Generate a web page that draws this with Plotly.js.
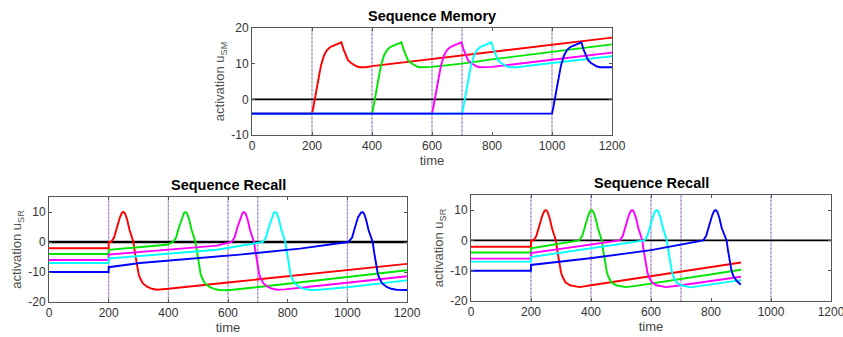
<!DOCTYPE html>
<html>
<head>
<meta charset="utf-8">
<script src="https://cdn.plot.ly/plotly-3.0.1.min.js"></script>
<style>html,body{margin:0;padding:0;background:#fff;}#chart{width:843px;height:337px;}</style>
</head>
<body>
<div id="chart"></div>
<script>
// ---------- DATA ----------
const eventTimes = [200, 400, 600, 700, 1000];
const seriesNames = ['red', 'green', 'magenta', 'cyan', 'blue'];
const seriesColors = ['#ff0000', '#00e600', '#ff00ff', '#00ffff', '#0000ff'];

// Sequence Memory (u_SM)
const smRedT = [0,200,205,210,220,230,240,250,260,270,280,290,298,305,312,320,330,340,350,360,380,400,600,800,1000,1200];
const smRedY = [-4,-4,-2,0,5,9.5,12.3,13.8,14.6,15,15.3,15.6,16,14,12.3,11,10.2,9.6,9.2,9,9,9.3,11.3,13.3,15.3,17.3];
const smGreenT = [0,400,405,410,420,430,440,450,460,470,480,490,498,505,512,520,530,540,550,560,580,600,700,800,1000,1200];
const smGreenY = [-4,-4,-2,0,5,9.5,12.3,13.8,14.6,15,15.3,15.6,16,14,12.3,11,10.2,9.6,9.2,9,9,9.1,10,11.2,13.3,15.4];
const smMagT = [0,600,605,610,620,630,640,650,660,670,680,690,698,705,712,720,730,740,750,760,780,800,1000,1200];
const smMagY = [-4,-4,-2,0,5,9.5,12.3,13.8,14.6,15,15.3,15.6,16,14,12.3,11,10.2,9.6,9.2,9,9,9.1,11.1,13.1];
const smCyanT = [0,700,705,710,720,730,740,750,760,770,780,790,798,805,812,820,830,840,850,860,880,1000,1200];
const smCyanY = [-4,-4,-2,0,5,9.5,12.3,13.8,14.6,15,15.3,15.6,16,14,12.3,11,10.2,9.6,9.2,9,9,10.2,12.1];
const smBlueT = [0,1000,1005,1010,1020,1030,1040,1050,1060,1070,1080,1090,1098,1105,1112,1120,1130,1140,1150,1160,1180,1200];
const smBlueY = [-4,-4,-2,0,5,9.5,12.3,13.8,14.6,15,15.3,15.6,16,14,12.3,11,10.2,9.6,9.2,9,9,9];

// Sequence Recall, left (u_SR)
const lRedT = [0,200,200,208,218,228,238,245,250,255,262,270,283,288,294,300,305,315,330,345,362,400,600,800,1000,1200];
const lRedY = [-2.1,-2.1,0,0,1.5,5,8.3,9.8,10,9.5,7.4,4,0,-3.5,-7.5,-10.5,-12,-13.8,-15,-15.6,-15.9,-15.6,-13.5,-11.4,-9.3,-7.3];
const lGreenT = [0,200,200,395,416,426,436,446,453,458,463,470,478,491,496,502,508,513,523,538,553,570,600,800,1000,1200];
const lGreenY = [-4,-4,-2.6,-0.9,0,1.5,5,8.3,9.8,10,9.5,7.4,4,0,-3.5,-7.5,-10.5,-12,-13.8,-15,-15.6,-16,-16.1,-13.9,-11.6,-9.4];
const lMagT = [0,200,200,563,612,622,632,642,649,654,659,666,674,687,692,698,704,709,719,734,749,766,790,1000,1200];
const lMagY = [-6,-6,-4.2,-1.2,0,1.5,5,8.3,9.8,10,9.5,7.4,4,0,-3.5,-7.5,-10.5,-12,-13.8,-15,-15.6,-15.9,-15.8,-13.6,-11.4];
const lCyanT = [0,200,200,563,717,727,737,747,754,759,764,771,779,792,797,803,809,814,824,839,854,871,895,1000,1200];
const lCyanY = [-7,-7,-5.5,-2.6,0,1.5,5,8.3,9.8,10,9.5,7.4,4,0,-3.5,-7.5,-10.5,-12,-13.8,-15,-15.6,-15.9,-16,-15.1,-12.8];
const lBlueT = [0,200,200,305,640,841,1003,1016,1026,1036,1046,1051,1056,1063,1071,1085,1090,1096,1102,1107,1117,1132,1147,1165,1200];
const lBlueY = [-10,-10,-8.4,-7,-4.2,-2.2,0,1.5,5,8.3,9.8,10,9.5,7.4,4,0,-3.5,-7.5,-10.5,-12,-13.8,-15,-15.6,-15.9,-16];

// Sequence Recall, right (u_SR)
const rRedT = [0,200,200,208,218,228,238,245,250,255,262,270,283,288,294,300,305,315,330,345,362,400,600,800,900];
const rRedY = [-2.1,-2.1,0,0,1.5,5,8.3,9.8,10,9.5,7.4,4,0,-3.5,-7.5,-10.5,-12,-13.8,-14.8,-15.2,-15.4,-14.8,-11.8,-8.8,-7.3];
const rGreenT = [0,200,200,361,371,381,391,398,403,408,415,423,436,441,447,453,458,468,483,498,515,550,700,900];
const rGreenY = [-4,-4,-2.6,0,1.5,5,8.3,9.8,10,9.5,7.4,4,0,-3.5,-7.5,-10.5,-12,-13.8,-14.8,-15.2,-15.4,-15,-12.7,-9.7];
const rMagT = [0,200,200,496,506,516,526,533,538,543,550,558,571,576,582,588,593,603,618,633,650,700,900];
const rMagY = [-6,-6,-4.2,0,1.5,5,8.3,9.8,10,9.5,7.4,4,0,-3.5,-7.5,-10.5,-12,-13.8,-14.8,-15.2,-15.4,-14.8,-12];
const rCyanT = [0,200,200,578,588,598,608,615,620,625,632,640,653,658,664,670,675,685,700,715,732,900];
const rCyanY = [-7,-7,-5.5,0,1.5,5,8.3,9.8,10,9.5,7.4,4,0,-3.5,-7.5,-10.5,-12,-13.8,-14.8,-15.2,-15.5,-13.1];
const rBlueT = [0,200,200,397,600,774,784,794,804,811,816,821,828,836,852,857,863,868,874,885,897,900];
const rBlueY = [-10,-10,-8.1,-5.9,-3.2,0,1.5,5,8.3,9.8,10,9.5,7.4,4,0,-3.5,-7.2,-9.8,-11.7,-13.3,-14.4,-14.5];

const zeroT = [0, 1200];
const zeroY = [0, 0];

const titles = ['Sequence Memory', 'Sequence Recall', 'Sequence Recall'];
const yTitles = ['activation u<sub>SM</sub>', 'activation u<sub>SR</sub>', 'activation u<sub>SR</sub>'];
const xTitle = 'time';
const xTicks = [0, 200, 400, 600, 800, 1000, 1200];
const yTicksSM = [-10, 0, 10, 20];
const yTicksSR = [-20, -10, 0, 10];

// ---------- BUILD ----------
const FONT = '"Liberation Sans", Arial, Helvetica, sans-serif';
const panels = [
  {xa: 'x', ya: 'y', T: [smRedT, smGreenT, smMagT, smCyanT, smBlueT], Y: [smRedY, smGreenY, smMagY, smCyanY, smBlueY], zw: 1.6},
  {xa: 'x2', ya: 'y2', T: [lRedT, lGreenT, lMagT, lCyanT, lBlueT], Y: [lRedY, lGreenY, lMagY, lCyanY, lBlueY], zw: 2.4},
  {xa: 'x3', ya: 'y3', T: [rRedT, rGreenT, rMagT, rCyanT, rBlueT], Y: [rRedY, rGreenY, rMagY, rCyanY, rBlueY], zw: 1.8}
];

const traces = [];
const shapes = [];
panels.forEach(p => {
  traces.push({x: zeroT, y: zeroY, xaxis: p.xa, yaxis: p.ya, mode: 'lines',
    line: {color: '#000', width: p.zw}, hoverinfo: 'skip', showlegend: false});
  for (let i = 0; i < seriesNames.length; i++) {
    traces.push({x: p.T[i], y: p.Y[i], xaxis: p.xa, yaxis: p.ya, mode: 'lines', name: seriesNames[i],
      line: {color: seriesColors[i], width: 1.9}, showlegend: false});
  }
  eventTimes.forEach(t => {
    const yref = p.ya + ' domain';
    shapes.push({type: 'line', xref: p.xa, yref: yref, x0: t, x1: t, y0: 0, y1: 1, layer: 'below',
      line: {color: 'rgba(90,90,230,0.55)', width: 1}});
    shapes.push({type: 'line', xref: p.xa, yref: yref, x0: t, x1: t, y0: 0, y1: 1, layer: 'below',
      line: {color: 'rgba(220,80,60,0.9)', width: 1, dash: '1px,3px'}});
  });
});

const W = 843, H = 337;
// domains from pixel boxes [left, right, top, bottom]
const boxes = [[252, 612, 28, 135], [49, 407, 197, 302], [471, 831, 195, 301]];
function xd(b) { return [b[0] / W, b[1] / W]; }
function yd(b) { return [(H - b[3]) / H, (H - b[2]) / H]; }

function xaxis(b, anchor) {
  return {domain: xd(b), anchor: anchor, range: [0, 1200], tickvals: xTicks, ticktext: xTicks.map(String),
    showline: true, mirror: 'ticks', linecolor: '#555', linewidth: 1, ticks: 'inside', ticklen: 3, tickcolor: '#555',
    showgrid: false, zeroline: false, automargin: false, ticklabeloverflow: 'allow',
    tickfont: {family: FONT, size: 12, color: '#333'},
    title: {text: xTitle, font: {family: FONT, size: 13, color: '#444'}, standoff: 1}};
}
function yaxis(b, anchor, range, ticks, title) {
  return {domain: yd(b), anchor: anchor, range: range, tickvals: ticks, ticktext: ticks.map(String),
    showline: true, mirror: 'ticks', linecolor: '#555', linewidth: 1, ticks: 'inside', ticklen: 3, tickcolor: '#555',
    showgrid: false, zeroline: false, automargin: false, ticklabeloverflow: 'allow',
    tickfont: {family: FONT, size: 12, color: '#333'},
    title: {text: title, font: {family: FONT, size: 13, color: '#555'}, standoff: 3}};
}

const annotations = boxes.map((b, i) => ({
  text: '<b>' + titles[i] + '</b>', xref: 'paper', yref: 'paper',
  x: (b[0] + b[1]) / 2 / W, y: (H - b[2]) / H, xanchor: 'center', yanchor: 'bottom', yshift: 2,
  showarrow: false, font: {family: FONT, size: 14.5, color: '#000'}
}));

const layout = {
  width: W, height: H, margin: {l: 0, r: 0, t: 0, b: 0}, paper_bgcolor: '#fff', plot_bgcolor: '#fff',
  showlegend: false, font: {family: FONT},
  xaxis: xaxis(boxes[0], 'y'), yaxis: yaxis(boxes[0], 'x', [-10, 20], yTicksSM, yTitles[0]),
  xaxis2: xaxis(boxes[1], 'y2'), yaxis2: yaxis(boxes[1], 'x2', [-20, 15], yTicksSR, yTitles[1]),
  xaxis3: xaxis(boxes[2], 'y3'), yaxis3: yaxis(boxes[2], 'x3', [-20, 15], yTicksSR, yTitles[2]),
  shapes: shapes, annotations: annotations
};

Plotly.newPlot('chart', traces, layout, {staticPlot: true, displayModeBar: false});
</script>
</body>
</html>
